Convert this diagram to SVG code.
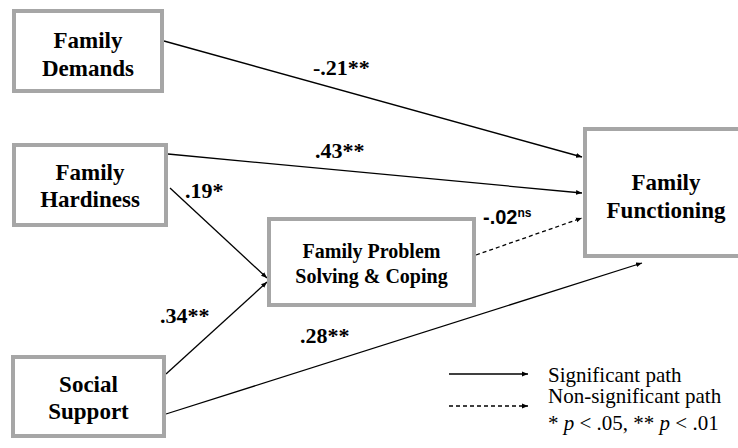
<svg xmlns="http://www.w3.org/2000/svg" width="738" height="448" viewBox="0 0 738 448">
<style>
.box{fill:#fff;stroke:#a6a6a6;stroke-width:4}
.nt{font-family:'Liberation Serif','Times New Roman',serif;font-weight:bold;font-size:23px;text-anchor:middle;fill:#000}
.nt2{font-family:'Liberation Serif','Times New Roman',serif;font-weight:bold;font-size:20px;text-anchor:middle;fill:#000}
.lbl{font-family:'Liberation Serif','Times New Roman',serif;font-weight:bold;font-size:22px;fill:#000}
.lbs{font-family:'Liberation Sans',Arial,sans-serif;font-weight:bold;font-size:20px;fill:#000}
.leg{font-family:'Liberation Serif','Times New Roman',serif;font-size:21px;fill:#000}
.e{fill:none;stroke:#000;stroke-width:1.3;marker-end:url(#ah)}
.d{stroke-dasharray:4 3}
</style>
<defs>
<marker id="ah" viewBox="0 0 10 10" refX="10" refY="5" markerWidth="6" markerHeight="6" markerUnits="userSpaceOnUse" orient="auto">
<path d="M0,1 L10,5 L0,9 Z" fill="#000"/>
</marker>
</defs>
<g id="connectors">
<line class="e" x1="164" y1="41" x2="582" y2="157"/>
<line class="e" x1="168" y1="154" x2="582" y2="193"/>
<line class="e" x1="170" y1="188" x2="267" y2="278"/>
<line class="e" x1="166" y1="374" x2="267" y2="282"/>
<line class="e" x1="166" y1="414" x2="642" y2="263"/>
<line class="e d" x1="476" y1="255" x2="582" y2="218"/>
<text class="lbl" x="313" y="75">-.21**</text>
<text class="lbl" x="315" y="158">.43**</text>
<text class="lbl" x="185" y="198">.19*</text>
<text class="lbl" x="160" y="323">.34**</text>
<text class="lbl" x="300" y="343">.28**</text>
<text class="lbs" x="483" y="224">-.02<tspan font-size="12" dy="-7">ns</tspan></text>
</g>
<g id="family-demands">
<rect class="box" x="14" y="11" width="148" height="80"/>
<text class="nt" x="88" y="48">Family</text>
<text class="nt" x="88" y="76">Demands</text>
</g>
<g id="family-hardiness">
<rect class="box" x="14" y="145" width="152" height="80"/>
<text class="nt" x="90" y="180">Family</text>
<text class="nt" x="90" y="207">Hardiness</text>
</g>
<g id="social-support">
<rect class="box" x="13" y="357" width="151" height="79"/>
<text class="nt" x="88.5" y="392">Social</text>
<text class="nt" x="88.5" y="419">Support</text>
</g>
<g id="family-problem-solving">
<rect class="box" x="269" y="219" width="205" height="86"/>
<text class="nt2" x="371.5" y="258">Family Problem</text>
<text class="nt2" x="371.5" y="283">Solving &amp; Coping</text>
</g>
<g id="family-functioning">
<rect class="box" x="585" y="129" width="170" height="127"/>
<text class="nt" x="666" y="190">Family</text>
<text class="nt" x="666" y="218">Functioning</text>
</g>
<g id="legend">
<line class="e" x1="449" y1="374" x2="528" y2="374"/>
<line class="e d" x1="449" y1="406" x2="528" y2="406"/>
<text class="leg" x="548" y="382">Significant path</text>
<text class="leg" x="548" y="403">Non-significant path</text>
<text class="leg" x="548" y="430">* <tspan font-style="italic">p</tspan> &lt; .05, ** <tspan font-style="italic">p</tspan> &lt; .01</text>
</g>
</svg>
